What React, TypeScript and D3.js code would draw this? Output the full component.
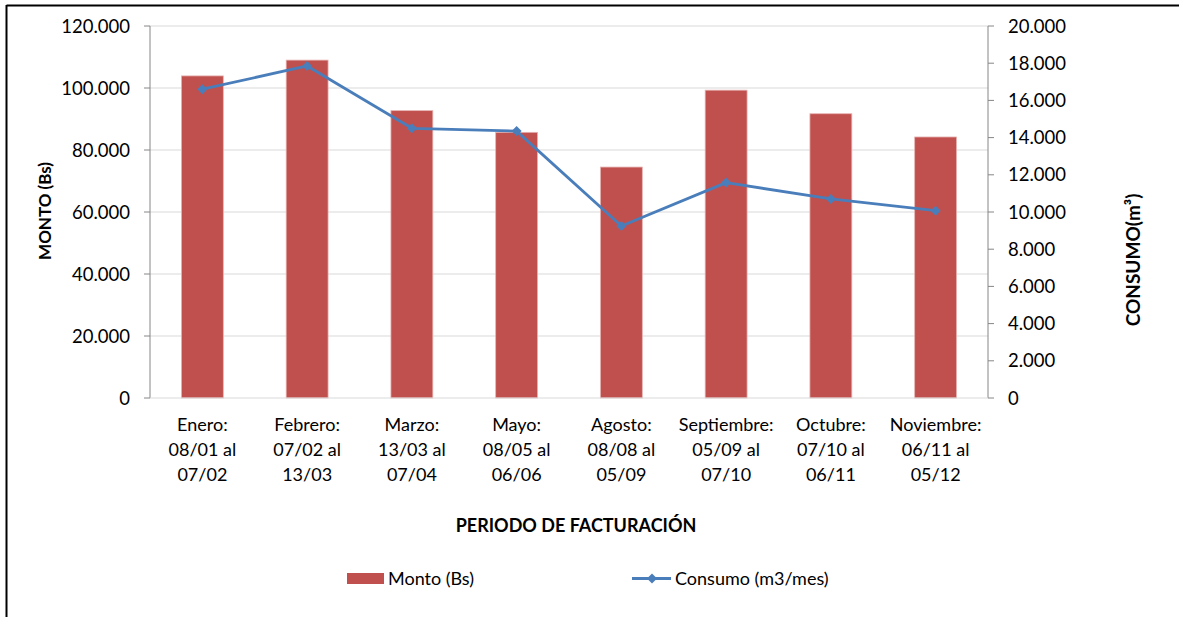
import React from "react";
import * as d3 from "d3";

const categories: string[][] = [
  ["Enero:", "08/01 al", "07/02"],
  ["Febrero:", "07/02 al", "13/03"],
  ["Marzo:", "13/03 al", "07/04"],
  ["Mayo:", "08/05 al", "06/06"],
  ["Agosto:", "08/08 al", "05/09"],
  ["Septiembre:", "05/09 al", "07/10"],
  ["Octubre:", "07/10 al", "06/11"],
  ["Noviembre:", "06/11 al", "05/12"],
];
const monto = [103900, 109000, 92700, 85700, 74500, 99300, 91700, 84200];
const consumo = [16600, 17850, 14500, 14350, 9250, 11580, 10700, 10070];
const leftTicks = [0, 20000, 40000, 60000, 80000, 100000, 120000];
const rightTicks = [0, 2000, 4000, 6000, 8000, 10000, 12000, 14000, 16000, 18000, 20000];

const FONT = "Lato, 'Open Sans', sans-serif";
const fmt = (v: number) => (v === 0 ? "0" : d3.format(",.3f")(v / 1000).replace(",", "."));

export default function App() {
  const W = 1179, H = 617;
  const left = 150, right = 988, top = 26, bottom = 398;
  const x = d3.scaleBand<number>().domain(d3.range(categories.length)).range([left, right]).paddingInner(0.6).paddingOuter(0.3);
  const xc = d3.scaleBand<number>().domain(d3.range(categories.length)).range([left, right]);
  const yL = d3.scaleLinear().domain([0, 120000]).range([bottom, top]);
  const yR = d3.scaleLinear().domain([0, 20000]).range([bottom, top]);
  const line = d3.line<number>().x((_, i) => xc(i)! + xc.bandwidth() / 2).y((d) => yR(d));
  const diamond = (cx: number, cy: number, r: number) => `M${cx},${cy - r}L${cx + r},${cy}L${cx},${cy + r}L${cx - r},${cy}Z`;
  const axisColor = "#868686";
  return (
    <svg width={W} height={H} style={{ position: "absolute", left: 0, top: 0, background: "#fff" }} fontFamily={FONT}>
      {/* border */}
      <line x1={6.5} y1={5.5} x2={W} y2={5.5} stroke="#000" strokeWidth={2} />
      <line x1={6.5} y1={5} x2={6.5} y2={H} stroke="#000" strokeWidth={2} />
      {/* gridlines */}
      {leftTicks.slice(1).map((t) => (
        <line key={"g" + t} x1={left} x2={right} y1={yL(t)} y2={yL(t)} stroke="#d9d9d9" strokeWidth={1} />
      ))}
      {/* bars */}
      {monto.map((v, i) => (
        <rect key={"b" + i} x={x(i)!} y={yL(v)} width={x.bandwidth()} height={bottom - yL(v)} fill="#c0504d" stroke="#e6b3b2" strokeWidth={0.8} />
      ))}
      {/* axes */}
      <line x1={left} x2={left} y1={top} y2={bottom} stroke={axisColor} />
      <line x1={right} x2={right} y1={top} y2={bottom} stroke={axisColor} />
      <line x1={left} x2={right} y1={bottom} y2={bottom} stroke="#d9d9d9" />
      {leftTicks.map((t) => (
        <g key={"l" + t}>
          <line x1={left - 6} x2={left} y1={yL(t)} y2={yL(t)} stroke={axisColor} />
          <text x={130} y={yL(t)} dy="0.36em" textAnchor="end" fontSize={18.5} fill="#000">{fmt(t)}</text>
        </g>
      ))}
      {rightTicks.map((t) => (
        <g key={"r" + t}>
          <line x1={right} x2={right + 6} y1={yR(t)} y2={yR(t)} stroke={axisColor} />
          <text x={1008} y={yR(t)} dy="0.36em" textAnchor="start" fontSize={18.5} fill="#000">{fmt(t)}</text>
        </g>
      ))}
      {/* line */}
      <path d={line(consumo) || ""} fill="none" stroke="#4a7ebb" strokeWidth={2.8} strokeLinejoin="round" />
      {consumo.map((v, i) => (
        <path key={"m" + i} d={diamond(xc(i)! + xc.bandwidth() / 2, yR(v), 5)} fill="#4a7ebb" />
      ))}
      {/* category labels */}
      {categories.map((lines, i) => (
        <text key={"c" + i} x={xc(i)! + xc.bandwidth() / 2} y={431} textAnchor="middle" fontSize={18} fill="#000">
          {lines.map((l, j) => (
            <tspan key={j} x={xc(i)! + xc.bandwidth() / 2} dy={j === 0 ? 0 : 25}>{l}</tspan>
          ))}
        </text>
      ))}
      {/* titles */}
      <text x={576} y={532} textAnchor="middle" fontSize={18} fontWeight="bold" fill="#000">PERIODO DE FACTURACIÓN</text>
      <text transform="translate(51,211) rotate(-90)" textAnchor="middle" fontSize={17} fontWeight="bold" fill="#000">MONTO (Bs)</text>
      <text transform="translate(1140,260) rotate(-90)" textAnchor="middle" fontSize={19} fontWeight="bold" fill="#000">CONSUMO(m³)</text>
      {/* legend */}
      <rect x={347} y={573} width={37} height={11} fill="#c0504d" />
      <text x={388} y={585} fontSize={18} fill="#000">Monto (Bs)</text>
      <line x1={632} x2={671} y1={578.5} y2={578.5} stroke="#4a7ebb" strokeWidth={2.8} />
      <path d={diamond(652, 578.5, 5)} fill="#4a7ebb" />
      <text x={675} y={585} fontSize={18} fill="#000">Consumo (m3/mes)</text>
    </svg>
  );
}
